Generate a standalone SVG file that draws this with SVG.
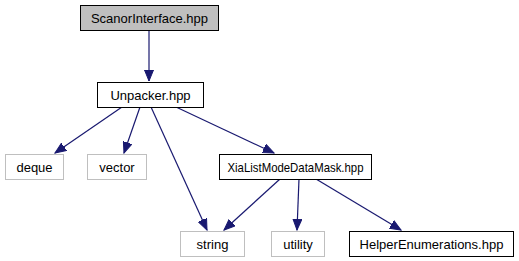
<svg xmlns="http://www.w3.org/2000/svg" width="519" height="261" viewBox="0 0 519 261">
  <style>
    .node rect { stroke-width: 1; }
    .main rect { fill: #bfbfbf; stroke: #000000; }
    .local rect { fill: #ffffff; stroke: #000000; }
    .sys rect { fill: #ffffff; stroke: #bfbfbf; }
    .node text { font-family: "Liberation Sans", Arial, sans-serif; font-size: 13px; fill: #000000; text-anchor: middle; }
    .edges path { fill: none; stroke: #191970; stroke-width: 1.2; marker-end: url(#arrow); }
  </style>
  <defs>
    <marker id="arrow" markerUnits="userSpaceOnUse" markerWidth="12" markerHeight="10" viewBox="0 0 12 10" refX="11" refY="5" orient="auto">
      <path d="M0,0.5 L11,5 L0,9.5 Z" fill="#191970" stroke="#191970" stroke-width="1"/>
    </marker>
  </defs>
  <rect width="519" height="261" fill="#ffffff"/>

  <g class="edges" id="edges">
    <path d="M149,30 L149,81"/>
    <path d="M122,107 L55,153"/>
    <path d="M140,107 L124,153"/>
    <path d="M151,107 L207,230"/>
    <path d="M176,107 L274,153"/>
    <path d="M280,179 L224,230"/>
    <path d="M299,179 L297,230"/>
    <path d="M316,179 L401,230"/>
  </g>

  <g class="node main" id="node-scanorinterface">
    <rect x="80.5" y="5.5" width="138" height="25"/>
    <text x="149.5" y="22.5">ScanorInterface.hpp</text>
  </g>
  <g class="node local" id="node-unpacker">
    <rect x="97.5" y="82.5" width="106" height="25"/>
    <text x="150.5" y="99.5">Unpacker.hpp</text>
  </g>
  <g class="node sys" id="node-deque">
    <rect x="5.5" y="154.5" width="58" height="25"/>
    <text x="34.5" y="171.5">deque</text>
  </g>
  <g class="node sys" id="node-vector">
    <rect x="87.5" y="154.5" width="59" height="25"/>
    <text x="117" y="171.5">vector</text>
  </g>
  <g class="node local" id="node-xialistmodedatamask">
    <rect x="219.5" y="154.5" width="152" height="25"/>
    <text x="295.5" y="171.5" textLength="136" lengthAdjust="spacingAndGlyphs">XiaListModeDataMask.hpp</text>
  </g>
  <g class="node sys" id="node-string">
    <rect x="180.5" y="231.5" width="64" height="25"/>
    <text x="212.5" y="248.5">string</text>
  </g>
  <g class="node sys" id="node-utility">
    <rect x="271.5" y="231.5" width="53" height="25"/>
    <text x="298" y="248.5">utility</text>
  </g>
  <g class="node local" id="node-helperenumerations">
    <rect x="349.5" y="231.5" width="164" height="25"/>
    <text x="431.5" y="248.5">HelperEnumerations.hpp</text>
  </g>
</svg>
